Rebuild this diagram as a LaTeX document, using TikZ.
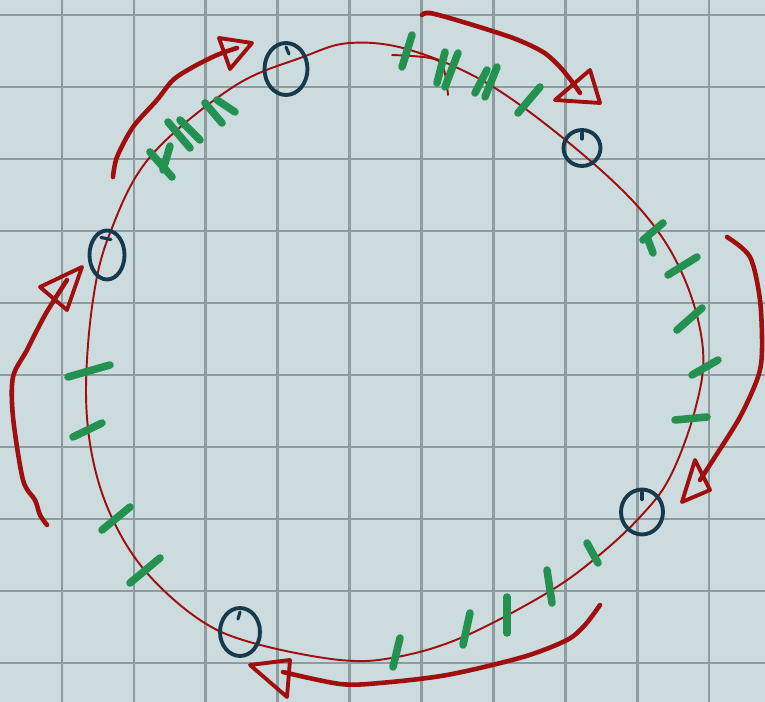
\documentclass[tikz,border=0pt]{standalone}
\usepackage{xcolor}
\usetikzlibrary{shapes.geometric}
\definecolor{paper}{HTML}{CBDBDE}
\definecolor{gridgray}{HTML}{8C9C9F}
\definecolor{inkred}{HTML}{A00E0E}
\definecolor{inkblue}{HTML}{163A4B}
\definecolor{inkgreen}{HTML}{23914F}
\tikzset{
  paperlines/.style={gridgray, line width=1.5pt, line cap=butt},
  loopline/.style={inkred, line width=1.1pt},
  penarrow/.style={inkred, line width=2.6pt},
  penhead/.style={inkred, line width=2.2pt},
  ring/.style={draw=inkblue, line width=2.2pt, ellipse, inner sep=0pt, outer sep=0pt},
  ringtick/.style={inkblue, line width=1.8pt},
  greentick/.style={inkgreen, line width=4.3pt}
}

\begin{document}
\begin{tikzpicture}[x=0.02cm, y=-0.02cm, line cap=round, line join=round]

% papier
\fill[paper] (0,0) rectangle (765,702);
\useasboundingbox (0,0) rectangle (765,702);
\foreach \k in {0,...,9} {
  \draw[paperlines] ({62+71.9*\k},0) -- ({62+71.9*\k},702);
  \draw[paperlines] (0,{15+72*\k}) -- (765,{15+72*\k});
}

% grosse boucle
\draw[loopline] plot[smooth cycle, tension=0.6] coordinates {
  (350,43) (410,50) (490,85) (580,152) (647,217) (685,280) (703,350)
  (695,410) (670,477) (640,517) (597,557) (547,593) (463,637) (397,657)
  (340,660) (253,643) (200,620) (147,573) (113,520) (93,460) (86,390)
  (93,300) (110,233) (150,157) (233,87) (303,57)};
\draw[loopline] plot[smooth, tension=0.6] coordinates {(392,55) (430,58) (443,67) (448,95)};

% fleches
\draw[penarrow] plot[smooth] coordinates {(113,177) (117,157) (133,127) (157,100) (173,80) (193,67) (217,55) (237,48)};
\draw[penhead] (219,38) -- (252,43) -- (230,69) -- cycle;

\draw[penarrow] plot[smooth] coordinates {(422,15) (430,13) (463,22) (513,38) (543,52) (560,67) (573,83) (580,93)};
\draw[penhead] (555,100) -- (590,70) -- (600,103) -- cycle;

\draw[penarrow] plot[smooth] coordinates {(727,237) (750,257) (760,300) (762,350) (758,377) (740,417) (713,460) (700,480)};
\draw[penhead] (682,502) -- (695,460) -- (710,490) -- cycle;

\draw[penarrow] plot[smooth] coordinates {(600,605) (585,625) (567,640) (523,657) (447,675) (380,683) (340,684) (283,672)};
\draw[penhead] (250,665) -- (290,660) -- (287,697) -- cycle;

\draw[penarrow] plot[smooth] coordinates {(47,525) (40,515) (35,500) (23,480) (13,417) (13,377) (27,350) (45,315) (67,280)};
\draw[penhead] (40,287) -- (82,267) -- (67,310) -- cycle;

% anneaux
\node[ring, minimum width=0.86cm, minimum height=1.04cm] (r1) at (286,69) {};
\node[ring, minimum width=0.70cm, minimum height=0.98cm] (r2) at (107,255) {};
\node[ring, minimum width=0.74cm, minimum height=0.72cm] (r3) at (582,148) {};
\node[ring, minimum width=0.84cm, minimum height=0.90cm] (r4) at (642,512) {};
\node[ring, minimum width=0.80cm, minimum height=0.96cm] (r5) at (240,632) {};
\draw[ringtick] (r1.north) ++(0,4) -- ++(3,7);
\draw[ringtick] (r2.north) ++(-6,7) -- ++(10,2);
\draw[ringtick] (r3.north) ++(0,3) -- ++(0,6);
\draw[ringtick] (r4.north) ++(0,3) -- ++(0,7);
\draw[ringtick] (r5.north) ++(0,4) -- ++(-2,7);

% traits verts
\foreach \xa/\ya/\xb/\yb in {
  150/152/172/177, 170/146/163/170,
  168/122/190/148, 180/120/200/140,
  205/103/222/123, 217/100/235/112,
  412/35/402/67, 445/52/437/83, 458/53/445/87,
  487/70/475/93, 497/67/485/97, 540/87/518/113,
  663/223/643/240, 647/237/653/253, 697/257/668/275,
  702/308/677/330, 718/360/692/375, 707/417/675/420,
  400/638/393/667, 470/613/463/645, 507/597/507/633,
  547/570/552/603, 587/543/598/563,
  110/365/68/377, 102/423/73/437, 130/507/102/530, 160/558/130/583}
  \draw[greentick] (\xa,\ya) -- (\xb,\yb);

\end{tikzpicture}
\end{document}
